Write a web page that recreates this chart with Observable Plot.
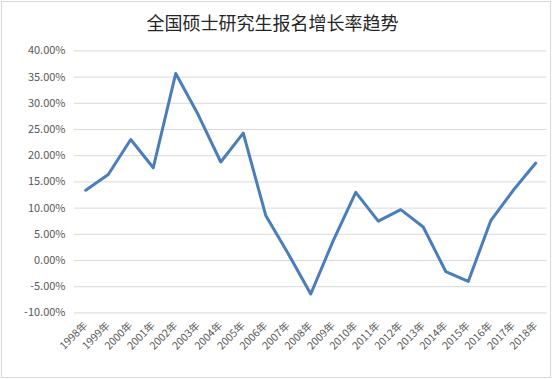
<!DOCTYPE html>
<html><head><meta charset="utf-8">
<script src="https://cdn.jsdelivr.net/npm/d3@7"></script>
<script src="https://cdn.jsdelivr.net/npm/@observablehq/plot@0.6"></script>
<style>
html,body{margin:0;padding:0;background:#fff;}
body{width:555px;height:379px;position:relative;overflow:hidden;font-family:"Noto Sans CJK SC","Noto Sans",sans-serif;}
#frame{position:absolute;left:1px;top:1px;width:548px;height:375px;border:1px solid #d9d9d9;pointer-events:none;}
#title{position:absolute;left:0;top:0;width:545px;height:44px;line-height:44px;text-align:center;font-size:18px;color:#262626;}
#chart{position:absolute;left:0;top:40px;}
</style>
</head><body>
<div id="title">全国硕士研究生报名增长率趋势</div>
<div id="chart"></div>
<div id="frame"></div>
<script>
const years = ["1998年","1999年","2000年","2001年","2002年","2003年","2004年","2005年","2006年","2007年","2008年","2009年","2010年","2011年","2012年","2013年","2014年","2015年","2016年","2017年","2018年"];
const growth = [13.4, 16.4, 23.1, 17.7, 35.7, 27.8, 18.8, 24.3, 8.6, 1.3, -6.4, 3.8, 13.0, 7.5, 9.7, 6.4, -2.1, -4.0, 7.6, 13.4, 18.6];
const yTicks = [-10, -5, 0, 5, 10, 15, 20, 25, 30, 35, 40];

const data = years.map((y, i) => ({year: y, value: growth[i]}));

const chart = Plot.plot({
  width: 555,
  height: 339,
  marginTop: 10.4,
  marginBottom: 66.6,
  marginLeft: 74,
  marginRight: 8.5,
  style: {fontFamily: '"Noto Sans CJK SC","Noto Sans",sans-serif', fontSize: "10.5px", color: "#595959", background: "transparent"},
  x: {type: "point", domain: years, padding: 0.5, round: false, label: null},
  y: {domain: [-10, 40], label: null},
  marks: [
    Plot.gridY(yTicks, {stroke: "#d9d9d9", strokeOpacity: 1, strokeWidth: 1}),
    Plot.axisY(yTicks, {tickSize: 0, tickPadding: 9, tickFormat: d => d.toFixed(2) + "%", fontSize: 11, fill: "#595959", label: null}),
    Plot.axisX({tickSize: 0, tickPadding: 11, tickRotate: -45, fontSize: 10.5, fill: "#595959", label: null}),
    Plot.line(data, {x: "year", y: "value", stroke: "#4a7ebb", strokeWidth: 3, strokeLinejoin: "round", strokeLinecap: "round"})
  ]
});
document.getElementById("chart").appendChild(chart);
</script>
</body></html>
